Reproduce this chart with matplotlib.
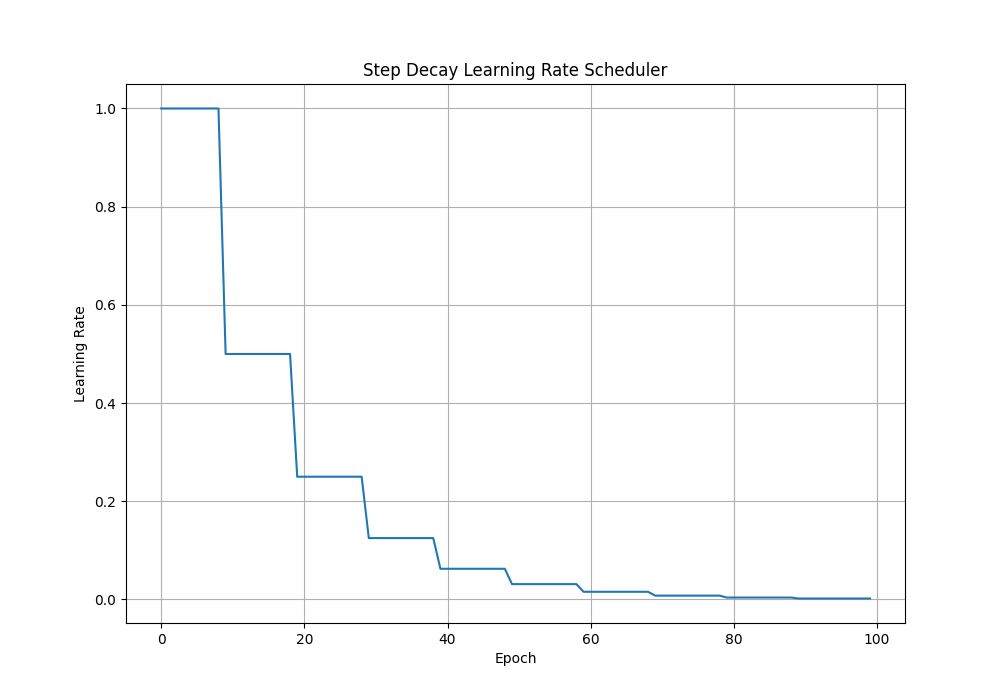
import matplotlib
matplotlib.use("Agg")
import matplotlib.pyplot as plt

epochs = list(range(100))
learning_rate = (
    [1.0] * 9
    + [0.5] * 10
    + [0.25] * 10
    + [0.125] * 10
    + [0.0625] * 10
    + [0.03125] * 10
    + [0.015625] * 10
    + [0.0078125] * 10
    + [0.00390625] * 10
    + [0.001953125] * 11
)

fig, ax = plt.subplots(figsize=(10.06, 7.0), dpi=100)
ax.plot(epochs, learning_rate, color="#1f77b4")
ax.set_title("Step Decay Learning Rate Scheduler")
ax.set_xlabel("Epoch")
ax.set_ylabel("Learning Rate")
ax.grid(True)
fig.savefig("out.png", dpi=100)
